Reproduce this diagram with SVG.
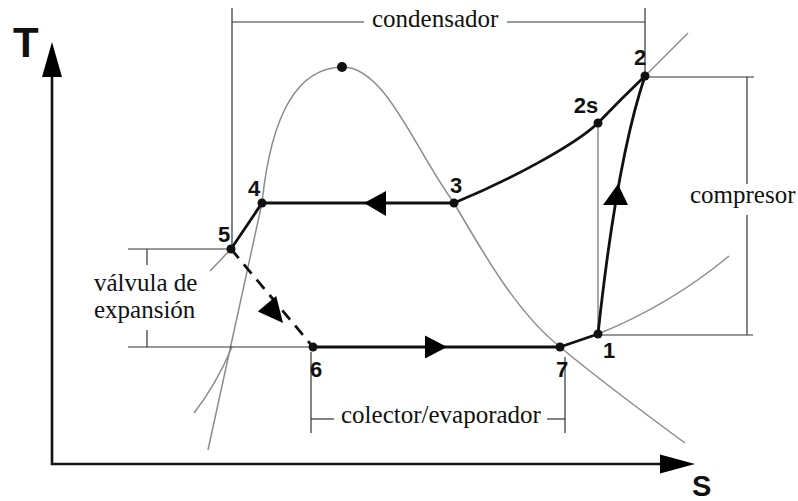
<svg xmlns="http://www.w3.org/2000/svg" width="798" height="501" viewBox="0 0 798 501">
<style>
.gray{fill:none;stroke:#8c8c8c;stroke-width:1.5}
.dim{fill:none;stroke:#333;stroke-width:1.2}
.proc{fill:none;stroke:#111;stroke-width:2.8;stroke-linecap:round}
.axis{fill:none;stroke:#111;stroke-width:2.6}
.head{fill:#000}
.dot{fill:#111}
.num{font-family:"Liberation Sans","DejaVu Sans",sans-serif;font-weight:bold;font-size:22px;fill:#111;text-anchor:middle}
.lbl{font-family:"Liberation Serif","Times New Roman",serif;font-size:25px;fill:#111}
</style>
<rect width="798" height="501" fill="#fff"/>
<g id="axes">
<line class="axis" x1="52" y1="465" x2="52" y2="74"/>
<polygon class="head" points="52,42 42,77 62,77"/>
<line class="axis" x1="51" y1="464" x2="663" y2="464"/>
<polygon class="head" points="695,464 660,454.5 660,473.5"/>
<text x="13" y="57" style="font-family:'Liberation Sans',sans-serif;font-weight:bold;font-size:42px;fill:#111">T</text>
<text x="692" y="496" style="font-family:'Liberation Sans',sans-serif;font-weight:bold;font-size:29px;fill:#111">S</text>
</g>
<g id="dome">
<path class="gray" d="M208,450 L262,203 C270,125 292,68 342,67 C385,66 415,150 454,203 C490,265 520,315 560,347 C600,380 640,410 685,443"/>
<path class="gray" d="M194,413 Q216,385 232,347"/>
<line class="gray" x1="210" y1="271" x2="231" y2="249"/>
<line class="gray" x1="645" y1="76" x2="688" y2="33"/>
<path class="gray" d="M598,334 Q670,305 729,256"/>
<line class="gray" x1="598" y1="123" x2="598" y2="334"/>
<circle class="dot" cx="342" cy="67" r="5"/>
</g>
<g id="dimensions">
<line class="dim" x1="232" y1="8" x2="232" y2="249"/>
<line class="dim" x1="645" y1="8" x2="645" y2="76"/>
<line class="dim" x1="232" y1="22" x2="364" y2="22"/>
<line class="dim" x1="507" y1="22" x2="645" y2="22"/>
<line class="dim" x1="645" y1="77" x2="754" y2="77"/>
<line class="dim" x1="747" y1="77" x2="747" y2="184"/>
<line class="dim" x1="747" y1="215" x2="747" y2="335"/>
<line class="dim" x1="598" y1="335" x2="753" y2="335"/>
<line class="dim" x1="128" y1="249" x2="231" y2="249"/>
<line class="dim" x1="147" y1="249" x2="147" y2="265"/>
<line class="dim" x1="147" y1="330" x2="147" y2="347"/>
<line class="dim" x1="128" y1="347" x2="313" y2="347"/>
<line class="dim" x1="311" y1="352" x2="311" y2="433"/>
<line class="dim" x1="565" y1="357" x2="565" y2="433"/>
<line class="dim" x1="311" y1="419" x2="334" y2="419"/>
<line class="dim" x1="547" y1="419" x2="565" y2="419"/>
<text class="lbl" x="372" y="27">condensador</text>
<text class="lbl" x="690" y="203">compresor</text>
<text class="lbl" x="94" y="291">válvula de</text>
<text class="lbl" x="94" y="318">expansión</text>
<text class="lbl" x="341" y="423">colector/evaporador</text>
</g>
<g id="connectors">
<path class="proc" d="M598,334 C606,260 620,150 645,76"/>
<polygon class="head" points="618,184 603,205 628,205"/>
<path class="proc" d="M645,76 Q620,100 598,123 C575,145 510,180 454,203"/>
<line class="proc" x1="454" y1="203" x2="262" y2="203"/>
<polygon class="head" points="364,203 386,191 386,216"/>
<line class="proc" x1="262" y1="203" x2="231" y2="249"/>
<line class="proc" x1="231" y1="249" x2="313" y2="347" stroke-dasharray="12 8" style="stroke-linecap:butt"/>
<polygon class="head" points="283,323 276.2,296.1 257.8,311.5"/>
<line class="proc" x1="313" y1="347" x2="560" y2="347"/>
<polygon class="head" points="447,347 425,335.5 425,358.5"/>
<line class="proc" x1="560" y1="347" x2="598" y2="334"/>
</g>
<g id="node-1"><circle class="dot" cx="598" cy="334" r="4.5"/><text class="num" x="609" y="358">1</text></g>
<g id="node-2"><circle class="dot" cx="645" cy="76" r="4.5"/><text class="num" x="640" y="65">2</text></g>
<g id="node-2s"><circle class="dot" cx="598" cy="123" r="4.5"/><text class="num" x="586" y="113">2s</text></g>
<g id="node-3"><circle class="dot" cx="454" cy="203" r="4.5"/><text class="num" x="456" y="193">3</text></g>
<g id="node-4"><circle class="dot" cx="262" cy="203" r="4.5"/><text class="num" x="254" y="196">4</text></g>
<g id="node-5"><circle class="dot" cx="231" cy="249" r="4.5"/><text class="num" x="224" y="242">5</text></g>
<g id="node-6"><circle class="dot" cx="313" cy="347" r="4.5"/><text class="num" x="316" y="377">6</text></g>
<g id="node-7"><circle class="dot" cx="560" cy="347" r="4.5"/><text class="num" x="562" y="377">7</text></g>
</svg>
